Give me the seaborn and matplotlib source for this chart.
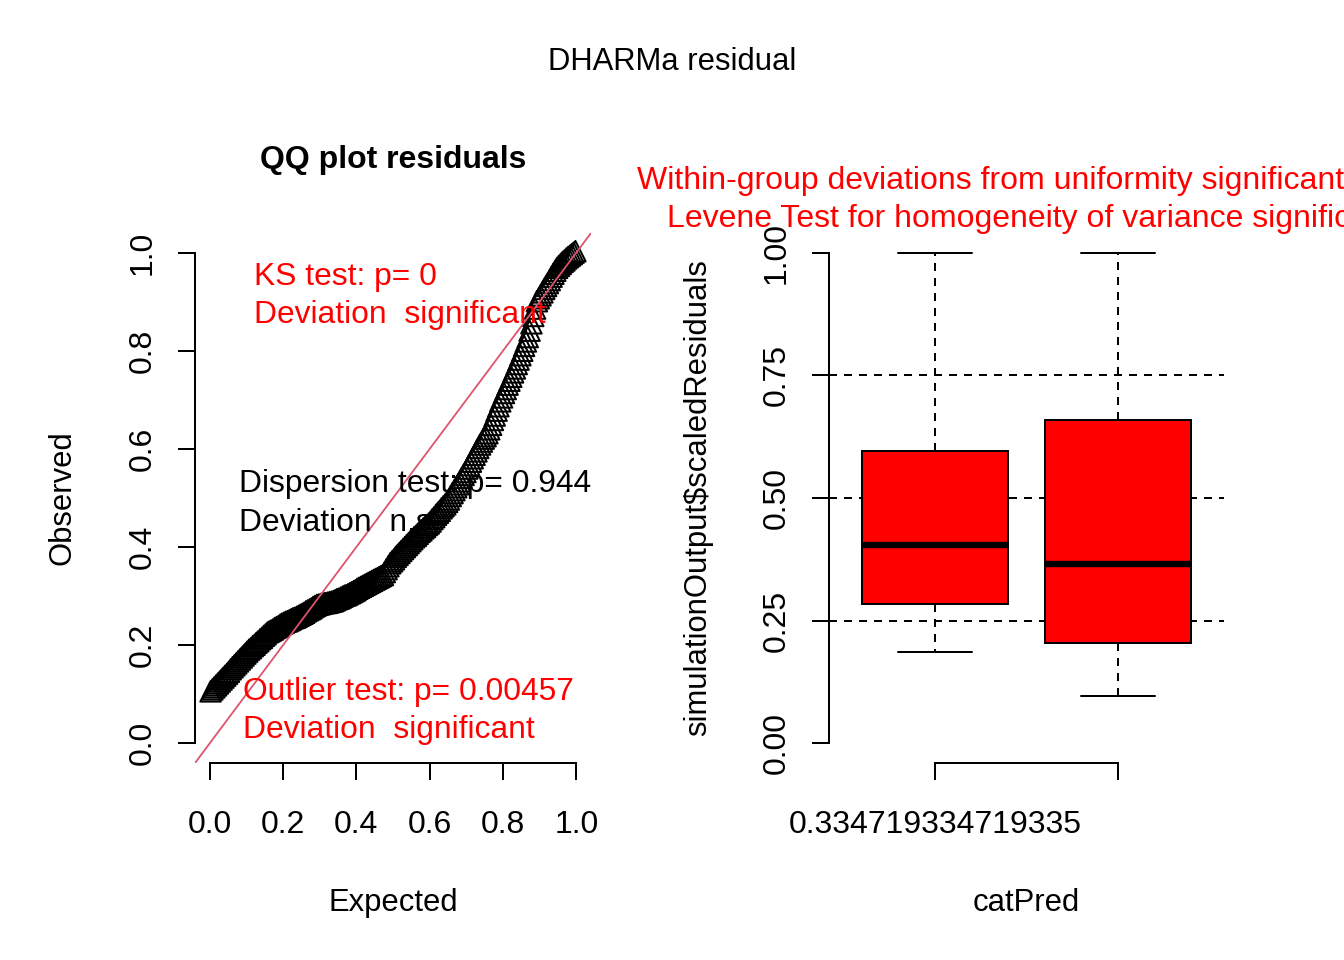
import numpy as np
import pandas as pd
import matplotlib
matplotlib.use("Agg")
import matplotlib.pyplot as plt
import seaborn as sns

# Scaled (uniform) residuals, sorted
observed = [
    0.106, 0.110, 0.114, 0.118, 0.122, 0.126, 0.130, 0.134, 0.138, 0.142,
    0.146, 0.151, 0.155, 0.159, 0.163, 0.167, 0.171, 0.175, 0.179, 0.183,
    0.187, 0.191, 0.194, 0.198, 0.201, 0.205, 0.208, 0.212, 0.215, 0.219,
    0.222, 0.226, 0.228, 0.230, 0.232, 0.235, 0.237, 0.239, 0.242, 0.244,
    0.246, 0.248, 0.249, 0.251, 0.253, 0.255, 0.256, 0.258, 0.260, 0.262,
    0.264, 0.266, 0.269, 0.271, 0.273, 0.275, 0.278, 0.280, 0.282, 0.283,
    0.284, 0.285, 0.286, 0.286, 0.287, 0.288, 0.289, 0.290, 0.292, 0.294,
    0.295, 0.297, 0.299, 0.301, 0.302, 0.304, 0.306, 0.308, 0.310, 0.312,
    0.315, 0.317, 0.319, 0.321, 0.323, 0.325, 0.327, 0.329, 0.331, 0.333,
    0.335, 0.337, 0.339, 0.341, 0.343, 0.349, 0.355, 0.361, 0.367, 0.371,
    0.375, 0.380, 0.384, 0.388, 0.392, 0.396, 0.400, 0.404, 0.408, 0.412,
    0.416, 0.420, 0.423, 0.427, 0.431, 0.434, 0.438, 0.441, 0.445, 0.448,
    0.452, 0.457, 0.461, 0.466, 0.470, 0.474, 0.479, 0.483, 0.487, 0.492,
    0.497, 0.504, 0.510, 0.516, 0.522, 0.528, 0.534, 0.541, 0.547, 0.553,
    0.560, 0.567, 0.574, 0.581, 0.588, 0.595, 0.602, 0.609, 0.615, 0.621,
    0.626, 0.632, 0.640, 0.649, 0.659, 0.668, 0.678, 0.687, 0.697, 0.705,
    0.714, 0.722, 0.731, 0.739, 0.747, 0.756, 0.764, 0.773, 0.782, 0.791,
    0.800, 0.810, 0.819, 0.828, 0.841, 0.856, 0.871, 0.886, 0.901, 0.907,
    0.913, 0.919, 0.926, 0.932, 0.938, 0.944, 0.951, 0.957, 0.963, 0.969,
    0.973, 0.977, 0.981, 0.984, 0.988, 0.991, 0.994, 0.997, 1.000, 1.003,
]

# Boxplot groups: five-number summaries per level of catPred
cat_levels = ["0.334719334719335", "0.665280665280665"]
group1_resid = [0.186, 0.284, 0.404, 0.596, 1.000]
group2_resid = [0.096, 0.204, 0.365, 0.659, 1.000]

# Test results shown as text
ks_p = "0"
disp_p = "0.944"
outlier_p = "0.00457"

# theoretical uniform quantiles, like ppoints()
n = len(observed)
expected = (np.arange(n) + 0.5) / n
qq_df = pd.DataFrame({"Expected": expected, "Observed": observed})

box_df = pd.DataFrame({
    "catPred": [cat_levels[0]] * len(group1_resid) + [cat_levels[1]] * len(group2_resid),
    "resid": group1_resid + group2_resid,
})

sns.set_style("ticks")
plt.rcParams["font.family"] = ["Liberation Sans", "DejaVu Sans"]
plt.rcParams["axes.linewidth"] = 1.0
for key in ["text.color", "axes.labelcolor", "xtick.color", "ytick.color", "axes.edgecolor"]:
    plt.rcParams[key] = "black"

FS = 15.5     # axis labels, outer title
FS_TXT = 15.9  # test results
FS_TICK = 16
W, H = 1344, 960
fig = plt.figure(figsize=(W / 144, H / 144), dpi=144)


def px_axes(x0, y0, x1, y1):
    return fig.add_axes([x0 / W, 1 - y1 / H, (x1 - x0) / W, (y1 - y0) / H])


def r_axes(ax):
    for s in ["top", "right"]:
        ax.spines[s].set_visible(False)
    ax.tick_params(direction="out", length=8.5, width=1.0, labelsize=FS_TICK, colors="black")
    ax.tick_params(axis="x", pad=15)
    ax.tick_params(axis="y", pad=10, labelrotation=90)
    for lab in ax.get_yticklabels():
        lab.set_va("center")
    ax.grid(False)


# ---- left: QQ plot ----
ax1 = px_axes(195, 233, 591, 763)
sns.scatterplot(data=qq_df, x="Expected", y="Observed", ax=ax1, marker="^", s=105,
                facecolors="none", edgecolors="black", linewidths=1.0, legend=False)
ax1.axline((0, 0), (1, 1), color="#DF536B", lw=0.9)
ax1.set_xlim(-0.04, 1.04)
ax1.set_ylim(-0.04, 1.04)
ax1.set_xticks(np.arange(0, 1.01, 0.2))
ax1.set_yticks(np.arange(0, 1.01, 0.2))
ax1.set_xticklabels([f"{v:.1f}" for v in np.arange(0, 1.01, 0.2)])
ax1.set_yticklabels([f"{v:.1f}" for v in np.arange(0, 1.01, 0.2)])
r_axes(ax1)
ax1.spines["left"].set_bounds(0, 1)
ax1.spines["bottom"].set_bounds(0, 1)
ax1.set_xlabel("Expected", fontsize=FS, va="center")
ax1.set_ylabel("Observed", fontsize=FS, va="center")
ax1.xaxis.set_label_coords(0.5, (763 - 903) / 530)
ax1.yaxis.set_label_coords((62 - 195) / 396, 0.5)
ax1.text(0.5, (763 - 160) / 530, "QQ plot residuals", transform=ax1.transAxes,
         fontsize=16, fontweight="bold", ha="center", va="center")

ax1.text(0.12, 0.951, f"KS test: p= {ks_p}", color="red", fontsize=FS_TXT, va="center")
ax1.text(0.12, 0.872, "Deviation  significant", color="red", fontsize=FS_TXT, va="center")
ax1.text(0.079, 0.529, f"Dispersion test: p= {disp_p}", color="black", fontsize=FS_TXT, va="center")
ax1.text(0.079, 0.449, "Deviation  n.s.", color="black", fontsize=FS_TXT, va="center")
ax1.text(0.09, 0.104, f"Outlier test: p= {outlier_p}", color="red", fontsize=FS_TXT, va="center")
ax1.text(0.09, 0.027, "Deviation  significant", color="red", fontsize=FS_TXT, va="center")

# ---- right: residuals by catPred ----
ax2 = px_axes(829, 233, 1224, 763)
dash = (0, (4, 3.5))
for h in [0.25, 0.5, 0.75]:
    ax2.axhline(h, color="black", lw=1.0, ls=dash, zorder=0.5)
sns.boxplot(data=box_df, x="catPred", y="resid", order=cat_levels, ax=ax2,
            color="#FF0000", saturation=1, linecolor="black", linewidth=1.0, width=0.8,
            whiskerprops=dict(linestyle=dash), medianprops=dict(linewidth=3.2))
ax2.set_xlim(-0.58, 1.58)
ax2.set_ylim(-0.04, 1.04)
ax2.set_xticks([0, 1])
ax2.set_xticklabels([cat_levels[0], ""])
ax2.set_yticks([0, 0.25, 0.5, 0.75, 1.0])
ax2.set_yticklabels(["0.00", "0.25", "0.50", "0.75", "1.00"])
r_axes(ax2)
ax2.spines["left"].set_bounds(0, 1)
ax2.spines["bottom"].set_bounds(0, 1)
ax2.set_xlabel("catPred", fontsize=FS, va="center")
ax2.set_ylabel("simulationOutput\\$scaledResiduals", fontsize=FS, va="center")
ax2.xaxis.set_label_coords(0.5, (763 - 903) / 530)
ax2.yaxis.set_label_coords((698 - 829) / 395, 0.5)

# titles
fig.text(0.5, 1 - 62 / H, "DHARMa residual", ha="center", va="center", fontsize=FS)
fig.text(637 / W, 1 - 181 / H, "Within-group deviations from uniformity significant",
         color="red", ha="left", va="center", fontsize=16)
fig.text(667 / W, 1 - 219 / H, "Levene Test for homogeneity of variance significant",
         color="red", ha="left", va="center", fontsize=16)

fig.savefig("out.png", dpi=144)
